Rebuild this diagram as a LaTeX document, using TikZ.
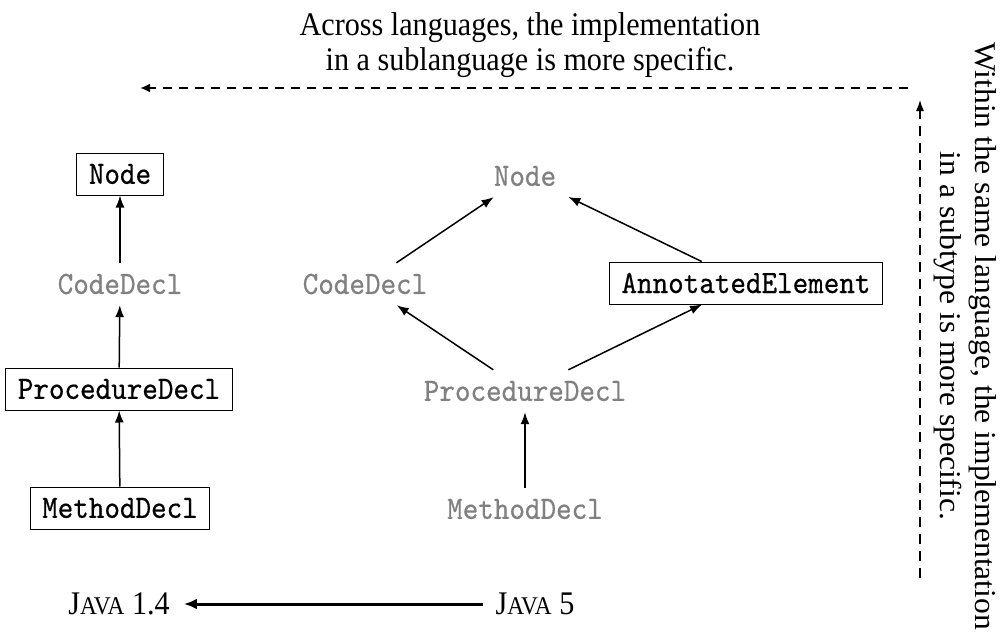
\documentclass[tikz,border=0pt]{standalone}
\usepackage{fontspec}
\setmainfont{Liberation Serif}[FakeStretch=0.914]
\newfontfamily\sidefont{Liberation Serif}[FakeStretch=1.045]
\setmonofont{lmmono10-regular}[Extension=.otf, FakeStretch=0.912, FakeBold=0.5]
\usetikzlibrary{arrows.meta}

\tikzset{
  cls/.style={font=\ttfamily\fontsize{32.5}{36}\selectfont, minimum height=42pt,
              inner xsep=12pt, inner ysep=0pt},
  boxed/.style={cls, draw, line width=1pt},
  faded/.style={cls, text=black!50},
  inh/.style={-{Latex[length=12pt,width=9pt]}, line width=1.5pt},
  lang/.style={font=\fontsize{33}{36}\selectfont, inner sep=0pt},
  evolve/.style={-{Latex[length=13pt,width=11pt]}, line width=3pt},
  acrossarrow/.style={-{Latex[length=10pt,width=9pt]}, line width=2pt, dash pattern=on 9pt off 7pt},
  withinarrow/.style={-{Latex[length=11pt,width=8pt]}, line width=1.2pt, dash pattern=on 10pt off 7pt},
  note/.style={font=\fontsize{33}{35}\selectfont, align=center, inner sep=0pt},
  sidenote/.style={font=\sidefont\fontsize{30.2}{35}\selectfont, align=center, inner sep=0pt}
}
\newcommand{\javalang}{J{\fontsize{25.5}{25.5}\selectfont AVA}}

\begin{document}
\begin{tikzpicture}[x=1pt, y=-1pt]
  \useasboundingbox (0,0) rectangle (1004,634);

  % Java 1.4 hierarchy
  \node[boxed] (n14)  at (120,174) {Node};
  \node[faded] (cd14) at (120,284) {CodeDecl};
  \node[boxed] (pd14) at (119,389) {ProcedureDecl};
  \node[boxed] (md14) at (120,508) {MethodDecl};
  \draw[inh] (cd14) -- (n14);
  \draw[inh] (pd14) -- (cd14);
  \draw[inh] (md14) -- (pd14);

  % Java 5 hierarchy
  \node[faded] (n5)  at (525,176) {Node};
  \node[faded] (cd5) at (365,284) {CodeDecl};
  \node[boxed] (ae5) at (746,283) {AnnotatedElement};
  \node[faded] (pd5) at (525,391) {ProcedureDecl};
  \node[faded] (md5) at (525,509) {MethodDecl};
  \draw[inh] (cd5) -- (n5);
  \draw[inh] (ae5) -- (n5);
  \draw[inh] (pd5) -- (cd5);
  \draw[inh] (pd5) -- (ae5);
  \draw[inh] (md5) -- (pd5);

  % languages
  \node[lang] (j14) at (119,604) {\javalang{} 1.4};
  \node[lang] (j5)  at (535,604) {\javalang{} 5};
  \draw[evolve, shorten <=12pt, shorten >=14pt] (j5.west) -- (j14.east);

  % explanatory arrows
  \node[note] (across) at (530,45) {Across languages, the implementation\\in a sublanguage is more specific.};
  \coordinate (acrossFrom) at (908,88);
  \coordinate (acrossTo) at (140,88);
  \draw[acrossarrow] (acrossFrom) -- (acrossTo);

  \node[sidenote, rotate=-90] (within) at (965,336) {Within the same language, the implementation\\in a subtype is more specific.};
  \coordinate (withinFrom) at (920,578);
  \coordinate (withinTo) at (920,100);
  \draw[withinarrow] (withinFrom) -- (withinTo);
\end{tikzpicture}
\end{document}
